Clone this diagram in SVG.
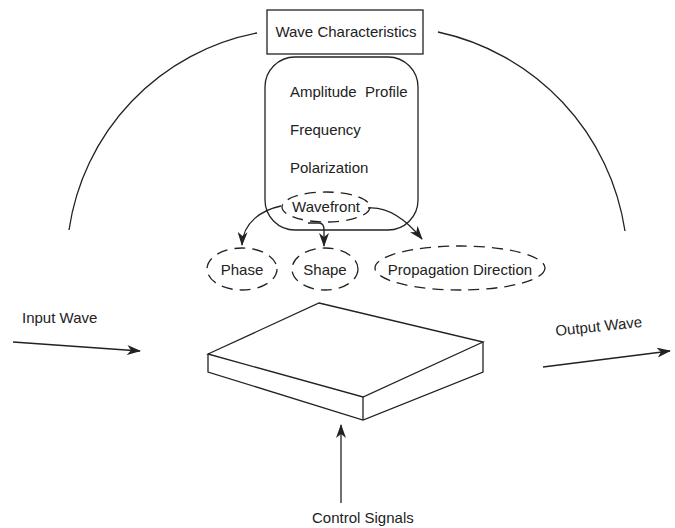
<svg xmlns="http://www.w3.org/2000/svg" width="675" height="528" viewBox="0 0 675 528">
<style>
text{font-family:"Liberation Sans",Arial,sans-serif;font-size:15px;fill:#222}
.ln{fill:none;stroke:#222;stroke-width:1.3}
.ds{fill:none;stroke:#222;stroke-width:1.3;stroke-dasharray:11 7}
</style>
<defs>
<marker id="ah" markerWidth="14" markerHeight="10" refX="13" refY="5" orient="auto" markerUnits="userSpaceOnUse">
<path d="M0,0 L14,5 L0,10 L4,5 z" fill="#222"/>
</marker>
</defs>
<rect width="675" height="528" fill="#fff"/>
<g id="arcs">
<path class="ln" d="M257,33 A235,235 0 0 0 69,230"/>
<path class="ln" d="M438,32 A240,240 0 0 1 625,231"/>
</g>
<g id="wave-characteristics">
<rect class="ln" x="267" y="10" width="156" height="44"/>
<text x="346" y="37" text-anchor="middle" font-size="14.6">Wave Characteristics</text>
</g>
<g id="properties">
<rect class="ln" x="265" y="57" width="153" height="173" rx="30" ry="30"/>
<text x="290" y="97" xml:space="preserve">Amplitude  Profile</text>
<text x="290" y="135">Frequency</text>
<text x="290" y="173">Polarization</text>
</g>
<g id="wavefront">
<ellipse class="ds" cx="326" cy="207" rx="44" ry="15"/>
<text x="326" y="212" text-anchor="middle">Wavefront</text>
</g>
<g id="phase">
<ellipse class="ds" cx="242" cy="269" rx="35" ry="21"/>
<text x="242" y="275" text-anchor="middle">Phase</text>
</g>
<g id="shape">
<ellipse class="ds" cx="325" cy="269" rx="33" ry="21"/>
<text x="325" y="275" text-anchor="middle">Shape</text>
</g>
<g id="propagation">
<ellipse class="ds" cx="460" cy="268" rx="85" ry="22"/>
<text x="460" y="275" text-anchor="middle">Propagation Direction</text>
</g>
<g id="modulator">
<path class="ln" d="M319,303 L483,342 L363,397 L208,354 Z" fill="#fff"/>
<path class="ln" d="M208,354 L208,372 L363,420 L483,372 L483,342 M363,397 L363,420"/>
</g>
<g id="labels">
<text x="22" y="323">Input Wave</text>
<text x="556" y="336" transform="rotate(-6 556 336)">Output Wave</text>
<text x="312" y="523">Control Signals</text>
</g>
<g id="connectors">
<path class="ln" d="M281,206 C262,210 243,222 242,245" marker-end="url(#ah)"/>
<path class="ln" d="M308,223 L319,223 Q324,223 324,230 L324,246" marker-end="url(#ah)"/>
<path class="ln" d="M368,208 C390,206 408,222 422,239" marker-end="url(#ah)"/>
<path class="ln" d="M13,342 L140,351" marker-end="url(#ah)"/>
<path class="ln" d="M543,367 L670,351" marker-end="url(#ah)"/>
<path class="ln" d="M341,503 L341,425" marker-end="url(#ah)"/>
</g>
</svg>
